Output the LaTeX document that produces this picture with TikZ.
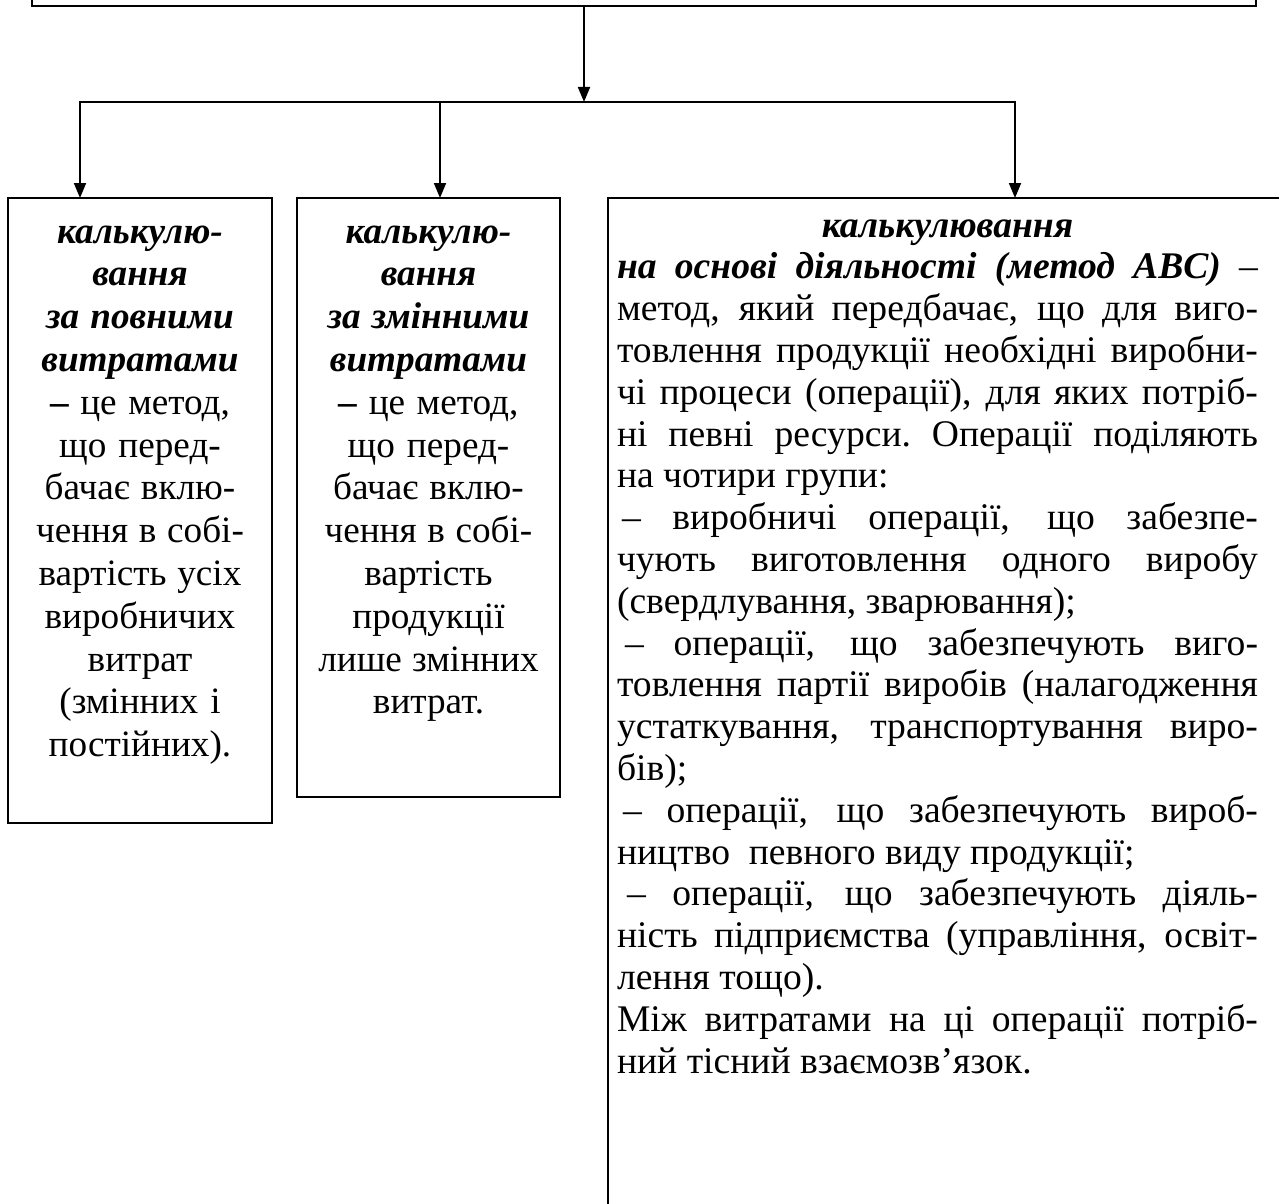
\documentclass[tikz,border=0pt]{standalone}
\usepackage{fontspec}
\setmainfont{Liberation Serif}
\usetikzlibrary{arrows.meta,positioning}
\newcommand{\kw}[1]{\textbf{\textit{#1}}}
\newcommand{\jl}[1]{\makebox[320.5pt][s]{\spaceskip=.25em plus 1fil\xspaceskip=.25em plus 1fil\relax #1}}

\begin{document}
\begin{tikzpicture}[x=1pt,y=1pt,>={Triangle[length=7.5pt,width=6pt]},line width=0.9pt,
 costbox/.style={draw,align=center,inner xsep=3pt,inner ysep=0pt,outer sep=0pt,text height=22.5pt,font=\fontsize{18.6}{21.4}\selectfont,
  execute at begin node={\spaceskip=.25em plus .125em minus .08em\xspaceskip=.25em plus .125em\relax}},
 widebox/.style={costbox,align=left,inner xsep=4.5pt,text height=19.5pt,font=\fontsize{18.8}{20.9}\selectfont}]
 \useasboundingbox (0,0) rectangle (639.5,-602);
 \clip (0,0) rectangle (639.5,-602);
 % the heading box, only its lower edge is in view
 \node[draw,anchor=south west,minimum width=612pt,minimum height=60pt,inner sep=0pt,outer sep=0pt] (top) at (16,-3) {};
 \node[costbox,text width=126pt,text depth=290pt,anchor=north west] (full) at (4,-99) {\kw{калькулю-}\\\kw{вання}\\\kw{за повними}\\\kw{витратами}\\\textbf{–} це метод,\\що перед-\\бачає вклю-\\чення в собі-\\вартість усіх\\виробничих\\витрат\\(змінних і\\постійних).};
 \node[costbox,text width=125.5pt,text depth=277pt,right=12.5pt of full.north east,anchor=north west] (var) {\kw{калькулю-}\\\kw{вання}\\\kw{за змінними}\\\kw{витратами}\\\textbf{–} це метод,\\що перед-\\бачає вклю-\\чення в собі-\\вартість\\продукції\\лише змінних\\витрат.};
 \node[widebox,text width=335pt,text depth=531.5pt,right=24pt of var.north east,anchor=north west] (abc) {\makebox[320.5pt][c]{\hspace*{10pt}\kw{калькулювання}}\\
 \jl{\kw{на основі діяльності (метод ABC)} –}\\
 \jl{метод, який передбачає, що для виго-}\\
 \jl{товлення продукції необхідні виробни-}\\
 \jl{чі процеси (операції), для яких потріб-}\\
 \jl{ні певні ресурси. Операції поділяють}\\
 на чотири групи:\\
 \jl{\hspace*{2.5pt}– виробничі операції, що забезпе-}\\
 \jl{чують виготовлення одного виробу}\\
 (свердлування, зварювання);\\
 \jl{\hspace*{4pt}– операції, що забезпечують виго-}\\
 \jl{товлення партії виробів (налагодження}\\
 \jl{устаткування, транспортування виро-}\\
 бів);\\
 \jl{\hspace*{3pt}– операції, що забезпечують вироб-}\\
 ництво~ певного виду продукції;\\
 \jl{\hspace*{5pt}– операції, що забезпечують діяль-}\\
 \jl{ність підприємства (управління, освіт-}\\
 лення тощо).\\
 \jl{Між витратами на ці операції потріб-}\\
 ний тісний взаємозв’язок.};
 % connectors
 \coordinate (hub) at (292,-51);
 \coordinate (d1) at ([xshift=36pt]full.north west);
 \coordinate (d2) at ([xshift=71.5pt]var.north west);
 \coordinate (d3) at ([xshift=203.5pt]abc.north west);
 \draw[->] (top.south -| hub) -- (hub);
 \draw[->] (hub) -| (d1);
 \draw[->] (hub) -| (d3);
 \draw[->] (d2 |- hub) -- (d2);
\end{tikzpicture}
\end{document}
